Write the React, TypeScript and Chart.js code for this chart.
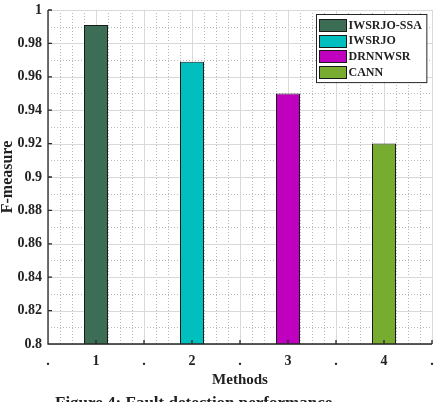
import React, { useEffect, useRef } from 'react';
import { Chart, registerables } from 'chart.js';

Chart.register(...registerables);

// ---- data ----
const methods = ['IWSRJO-SSA', 'IWSRJO', 'DRNNWSR', 'CANN'];
const methodPositions = [1, 2, 3, 4];
const fMeasure = [0.991, 0.969, 0.95, 0.92];
const barColors = ['#3C6E55', '#00BFBF', '#BF00BF', '#77AC30'];
const xTickLabels = ['.', '1', '.', '2', '.', '3', '.', '4', '.'];
const xLabel = 'Methods';
const yLabel = 'F-measure';
const caption = 'Figure 4: Fault detection performance';

const FONT = '"Liberation Serif", "Times New Roman", serif';
const TEXT = '#222222';

const matlabPlugin = {
  id: 'matlabLook',
  beforeDatasetsDraw(chart: any) {
    const { ctx, chartArea: a, scales } = chart;
    const x = scales.x;
    const y = scales.y;
    ctx.save();
    ctx.lineWidth = 1;
    // minor dotted grid
    ctx.strokeStyle = '#b8b8b8';
    ctx.setLineDash([1, 2]);
    ctx.beginPath();
    for (let k = 1; k < 20; k += 2) {
      const py = Math.round(y.getPixelForValue(y.min + k * 0.01)) + 0.5;
      ctx.moveTo(a.left, py);
      ctx.lineTo(a.right, py);
    }
    for (let k = 1; k < 32; k++) {
      if (k % 4 === 0) continue;
      const px = Math.round(x.getPixelForValue(x.min + k * 0.125)) + 0.5;
      ctx.moveTo(px, a.top);
      ctx.lineTo(px, a.bottom);
    }
    ctx.stroke();
    // major solid grid
    ctx.setLineDash([]);
    ctx.strokeStyle = '#d9d9d9';
    ctx.beginPath();
    y.ticks.forEach((t: any) => {
      const py = Math.round(y.getPixelForValue(t.value)) + 0.5;
      ctx.moveTo(a.left, py);
      ctx.lineTo(a.right, py);
    });
    x.ticks.forEach((t: any) => {
      const px = Math.round(x.getPixelForValue(t.value)) + 0.5;
      ctx.moveTo(px, a.top);
      ctx.lineTo(px, a.bottom);
    });
    ctx.stroke();
    ctx.restore();
  },
  afterDatasetsDraw(chart: any) {
    const { ctx, chartArea: a, scales } = chart;
    const x = scales.x;
    const y = scales.y;
    ctx.save();
    ctx.strokeStyle = '#262626';
    ctx.lineWidth = 1.3;
    ctx.beginPath();
    ctx.moveTo(a.left, a.top);
    ctx.lineTo(a.left, a.bottom);
    ctx.lineTo(a.right, a.bottom);
    y.ticks.forEach((t: any) => {
      const py = y.getPixelForValue(t.value);
      ctx.moveTo(a.left, py);
      ctx.lineTo(a.left + 4, py);
    });
    x.ticks.forEach((t: any) => {
      const px = x.getPixelForValue(t.value);
      ctx.moveTo(px, a.bottom);
      ctx.lineTo(px, a.bottom - 4);
    });
    ctx.stroke();
    ctx.restore();
  },
  afterDraw(chart: any) {
    const { ctx, chartArea: a } = chart;
    const ds = chart.data.datasets;
    ctx.save();
    ctx.font = `bold 12px ${FONT}`;
    let maxW = 0;
    ds.forEach((d: any) => {
      maxW = Math.max(maxW, ctx.measureText(d.label).width);
    });
    const rowH = 15.7;
    const swW = 27;
    const swH = 12;
    const boxW = 3 + swW + 2 + maxW + 5;
    const boxH = 10.5 * 2 + rowH * (ds.length - 1);
    const bx = Math.round(a.right - 6 - boxW) + 0.5;
    const by = Math.round(a.top + 4) + 0.5;
    ctx.fillStyle = '#ffffff';
    ctx.fillRect(bx, by, boxW, boxH);
    ctx.strokeStyle = '#262626';
    ctx.lineWidth = 1;
    ctx.strokeRect(bx, by, boxW, boxH);
    ds.forEach((d: any, i: number) => {
      const cy = by + 10.5 + i * rowH;
      ctx.fillStyle = d.backgroundColor;
      ctx.fillRect(bx + 3, Math.round(cy - swH / 2) + 0.5, swW, swH);
      ctx.strokeStyle = '#1a1a1a';
      ctx.strokeRect(bx + 3, Math.round(cy - swH / 2) + 0.5, swW, swH);
      ctx.fillStyle = TEXT;
      ctx.textBaseline = 'middle';
      ctx.textAlign = 'left';
      ctx.fillText(d.label, bx + 3 + swW + 2, cy + 0.5);
    });
    ctx.restore();
  },
};

export default function App() {
  const canvasRef = useRef<HTMLCanvasElement | null>(null);

  useEffect(() => {
    const canvas = canvasRef.current;
    if (!canvas) return;
    const chart = new Chart(canvas, {
      type: 'bar',
      data: {
        datasets: methods.map((m, i) => ({
          label: m,
          data: [{ x: methodPositions[i], y: fMeasure[i] }],
          backgroundColor: barColors[i],
          borderColor: '#1a1a1a',
          borderWidth: 1,
          grouped: false,
          categoryPercentage: 1,
          barPercentage: 0.5,
        })),
      },
      options: {
        animation: false,
        responsive: false,
        devicePixelRatio: 1,
        layout: { padding: { top: 10, right: 7, bottom: 0, left: 0 } },
        plugins: {
          legend: { display: false },
          tooltip: { enabled: false },
        },
        scales: {
          x: {
            type: 'linear',
            min: 0.5,
            max: 4.5,
            offset: false,
            grid: { display: false, drawTicks: false },
            border: { display: false },
            ticks: {
              stepSize: 0.5,
              autoSkip: false,
              maxRotation: 0,
              padding: 9,
              color: TEXT,
              font: { family: FONT, size: 14, weight: 'bold' },
              callback: (_v: any, i: number) => xTickLabels[i],
            },
            title: {
              display: true,
              text: xLabel,
              color: TEXT,
              font: { family: FONT, size: 15, weight: 'bold', lineHeight: 1.2 },
              padding: { top: 0, bottom: 12.5 },
            },
            afterFit: (s: any) => {
              s.height = 58;
              s.paddingLeft = 0;
              s.paddingRight = 0;
            },
          },
          y: {
            min: 0.8,
            max: 1,
            grid: { display: false, drawTicks: false },
            border: { display: false },
            ticks: {
              stepSize: 0.02,
              padding: 6,
              color: TEXT,
              font: { family: FONT, size: 14, weight: 'bold' },
              callback: (v: any) => String(Number(Number(v).toFixed(2))),
            },
            title: {
              display: true,
              text: yLabel,
              color: TEXT,
              font: { family: FONT, size: 16, weight: 'bold', lineHeight: 1 },
              padding: { top: 0, bottom: 0 },
            },
            afterFit: (s: any) => {
              s.width = 48;
              s.paddingTop = 0;
              s.paddingBottom = 0;
            },
          },
        },
      } as any,
      plugins: [matlabPlugin],
    });
    return () => chart.destroy();
  }, []);

  return (
    <div
      style={{
        position: 'absolute',
        left: 0,
        top: 0,
        width: 439,
        height: 402,
        overflow: 'hidden',
        background: '#ffffff',
      }}
    >
      <canvas ref={canvasRef} width={439} height={402} style={{ display: 'block' }} />
      <div
        style={{
          position: 'absolute',
          left: 55,
          top: 393,
          whiteSpace: 'nowrap',
          fontFamily: FONT,
          fontWeight: 'bold',
          fontSize: 17,
          lineHeight: '20px',
          color: TEXT,
        }}
      >
        {caption}
      </div>
    </div>
  );
}
